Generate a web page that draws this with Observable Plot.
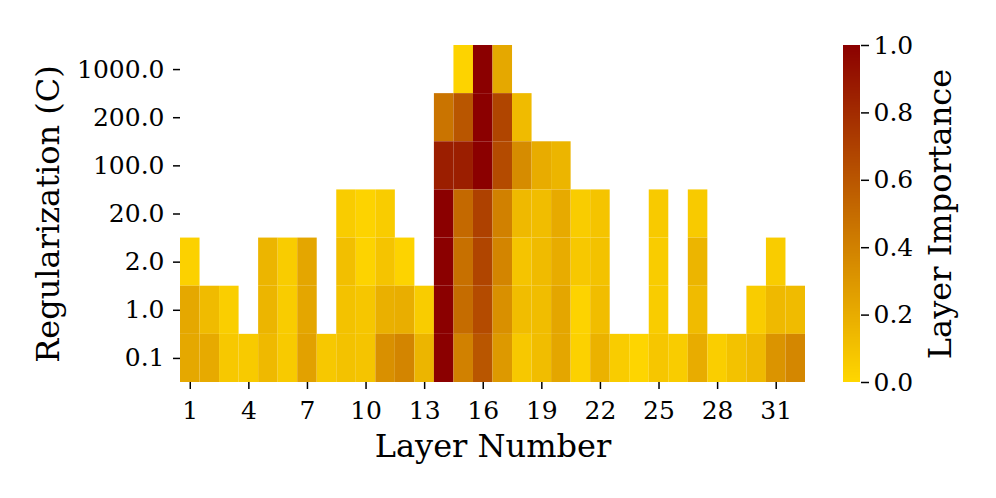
<!DOCTYPE html>
<html><head><meta charset="utf-8">
<script src="https://cdn.jsdelivr.net/npm/d3@7"></script>
<script src="https://cdn.jsdelivr.net/npm/@observablehq/plot@0.6"></script>
<style>
body{margin:0;background:#fff}
#wrap{position:relative;width:996px;height:498px}
#wrap svg{position:absolute;left:0;top:0}
</style>
</head><body><div id="wrap"></div>
<script>
const layers = [1,2,3,4,5,6,7,8,9,10,11,12,13,14,15,16,17,18,19,20,21,22,23,24,25,26,27,28,29,30,31,32];
const regLabels = ["1000.0","200.0","100.0","20.0","2.0","1.0","0.1"];
const _ = null;
//                 1    2    3    4    5    6    7    8    9    10   11   12   13   14   15   16   17   18   19   20   21   22   23   24   25   26   27   28   29   30   31   32
const imp1000 = [  _,   _,   _,   _,   _,   _,   _,   _,   _,   _,   _,   _,   _,   _,   0.02,1.0, 0.22,_,   _,   _,   _,   _,   _,   _,   _,   _,   _,   _,   _,   _,   _,   _];
const imp200  = [  _,   _,   _,   _,   _,   _,   _,   _,   _,   _,   _,   _,   _,   0.46,0.60,1.0, 0.68,0.13,_,   _,   _,   _,   _,   _,   _,   _,   _,   _,   _,   _,   _,   _];
const imp100  = [  _,   _,   _,   _,   _,   _,   _,   _,   _,   _,   _,   _,   _,   0.86,0.86,1.0, 0.65,0.35,0.20,0.16,_,   _,   _,   _,   _,   _,   _,   _,   _,   _,   _,   _];
const imp20   = [  _,   _,   _,   _,   _,   _,   _,   _,   0.05,0.02,0.05,_,   _,   1.0, 0.51,0.70,0.40,0.14,0.12,0.21,0.05,0.09,_,   _,   0.06,_,   0.06,_,   _,   _,   _,   _];
const imp2    = [  0.03,_,   _,   _,   0.16,0.05,0.23,_,   0.11,0.02,0.09,0.02,_,   1.0, 0.48,0.68,0.38,0.09,0.13,0.20,0.07,0.10,_,   _,   0.05,_,   0.16,_,   _,   _,   0.05,_];
const imp1    = [  0.22,0.13,0.04,_,   0.16,0.05,0.23,_,   0.10,0.08,0.18,0.19,0.05,1.0, 0.50,0.65,0.33,0.12,0.12,0.23,0.02,0.12,_,   _,   0.05,_,   0.13,_,   _,   0.05,0.14,0.13];
const imp01   = [  0.22,0.21,0.07,0.06,0.14,0.06,0.25,0.07,0.10,0.09,0.33,0.38,0.16,1.0, 0.40,0.60,0.29,0.07,0.12,0.23,0.03,0.17,0.05,0.01,0.08,0.05,0.20,0.04,0.10,0.14,0.31,0.37];
const xTicks = [1,4,7,10,13,16,19,22,25,28,31];
const cbTicks = [0,0.2,0.4,0.6,0.8,1.0];

const rows = [imp1000, imp200, imp100, imp20, imp2, imp1, imp01];
const data = [];
regLabels.forEach((r, i) => rows[i].forEach((v, j) => {
  if (v != null) data.push({layer: layers[j], reg: r, value: v});
}));

const color = {type: "linear", domain: [0, 1], range: ["#FFD700", "#8B0000"], interpolate: "rgb"};
const font = "DejaVu Serif";

const main = Plot.plot({
  width: 996, height: 498,
  marginLeft: 180, marginRight: 191, marginTop: 45, marginBottom: 116,
  style: {fontFamily: font, background: "white", color: "black", overflow: "visible"},
  x: {type: "band", domain: layers, padding: 0, round: false},
  y: {type: "band", domain: regLabels, padding: 0, round: false},
  color,
  marks: [
    Plot.cell(data, {x: "layer", y: "reg", fill: "value", inset: 0}),
    Plot.axisX({ticks: xTicks, tickSize: 7, tickPadding: 12, fontSize: 25, label: null, strokeWidth: 1.5}),
    Plot.axisY({tickSize: 7, tickPadding: 9, fontSize: 25, label: null, strokeWidth: 1.5}),
    Plot.text(["Layer Number"], {text: d => d, frameAnchor: "bottom", dy: 64, fontSize: 32, textAnchor: "middle", lineAnchor: "middle"}),
    Plot.text(["Regularization (C)"], {text: d => d, frameAnchor: "left", dx: -132, rotate: -90, fontSize: 32, textAnchor: "middle", lineAnchor: "middle"})
  ]
});

const nSteps = 337;
const cbData = d3.range(nSteps).map(i => ({y1: i / nSteps, y2: (i + 1) / nSteps, v: (i + 0.5) / nSteps}));
const cb = Plot.plot({
  width: 996, height: 498,
  marginLeft: 843, marginRight: 136, marginTop: 45, marginBottom: 116,
  style: {fontFamily: font, background: "transparent", color: "black", overflow: "visible"},
  x: {domain: [0, 1], axis: null},
  y: {domain: [0, 1]},
  color,
  marks: [
    Plot.rect(cbData, {x1: 0, x2: 1, y1: "y1", y2: "y2", fill: "v", shapeRendering: "crispEdges"}),
    Plot.axisY({anchor: "right", ticks: cbTicks, tickFormat: d => d.toFixed(1), tickSize: 8, tickPadding: 5, fontSize: 25, label: null, strokeWidth: 1.5}),
    Plot.text(["Layer Importance"], {text: d => d, frameAnchor: "right", dx: 80, rotate: -90, fontSize: 32, textAnchor: "middle", lineAnchor: "middle"})
  ]
});

const wrap = document.getElementById("wrap");
wrap.append(main, cb);
</script>
</body></html>
